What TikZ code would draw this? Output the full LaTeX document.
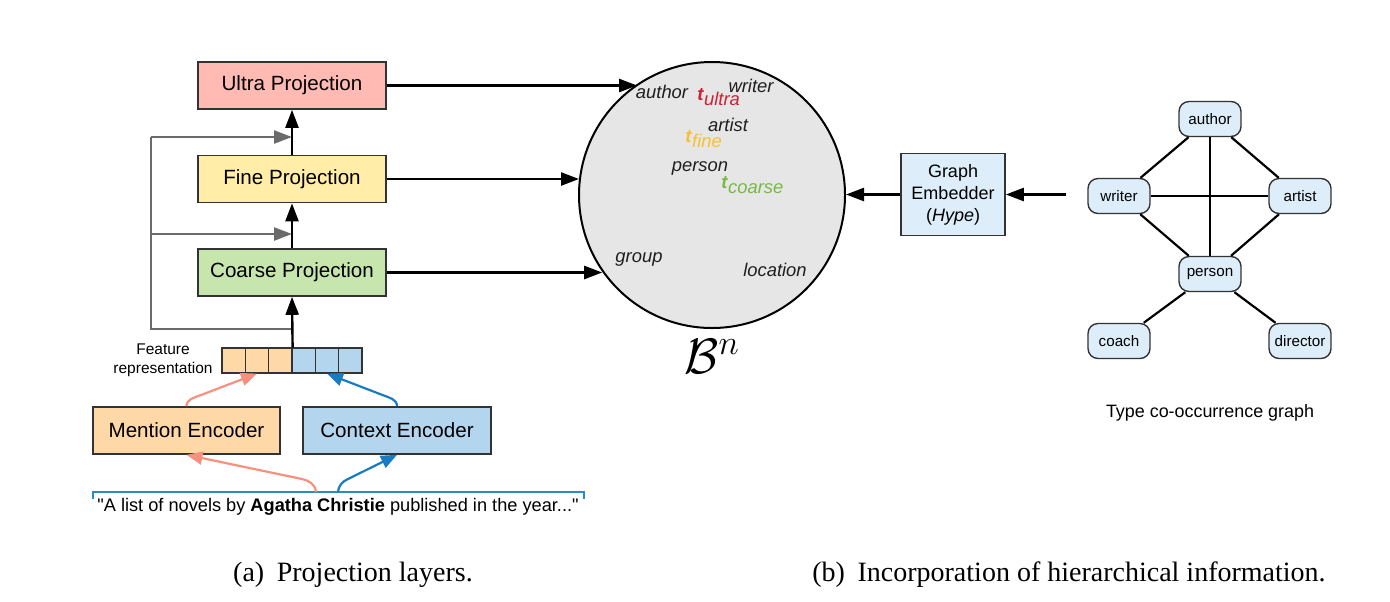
\documentclass[tikz,border=0pt]{standalone}
\usepackage{fontspec}
\setmainfont{Liberation Sans}
\newfontfamily\qfont{Liberation Sans}
\newfontfamily\capfont{Liberation Serif}
\usetikzlibrary{arrows.meta,calc}
\definecolor{boxline}{HTML}{333333}
\definecolor{ultrafill}{HTML}{FFBBB3}
\definecolor{finefill}{HTML}{FFEDA8}
\definecolor{coarsefill}{HTML}{C6E6AE}
\definecolor{menfill}{HTML}{FFD8A8}
\definecolor{ctxfill}{HTML}{B3D5EE}
\definecolor{gfill}{HTML}{DDEEFA}
\definecolor{circfill}{HTML}{E6E6E6}
\definecolor{grayln}{HTML}{6B6B6B}
\definecolor{salm}{HTML}{F8907E}
\definecolor{bluearr}{HTML}{1A7CC0}
\definecolor{brack}{HTML}{2B8CC4}
\definecolor{tultra}{HTML}{CC2233}
\definecolor{tfine}{HTML}{F6C02E}
\definecolor{tcoarse}{HTML}{77B944}
\begin{document}
\begin{tikzpicture}[x=0.5pt,y=-0.5pt,
  proj/.style={draw=boxline, line width=0.8pt, minimum width=94pt, minimum height=23.5pt, inner sep=0pt, font=\fontsize{10.3}{12}\selectfont},
  blk/.style={-{Triangle[length=9pt,width=6.5pt]}, line width=1.2pt},
  gry/.style={draw=grayln, line width=1.2pt},
  gryarr/.style={gry, -{Triangle[length=9pt,width=6.5pt]}},
  salarr/.style={draw=salm, line width=1.1pt, -{Triangle[length=8pt,width=6.5pt]}},
  bluarr/.style={draw=bluearr, line width=1.1pt, -{Triangle[length=8pt,width=6.5pt]}},
  gnode/.style={draw=boxline, rounded corners=5pt, fill=gfill, minimum width=31pt, minimum height=17.5pt, inner sep=0pt, font=\fontsize{7.6}{9}\selectfont, line width=0.7pt},
  gedge/.style={line width=1.1pt},
  cell/.style={draw=boxline, minimum width=11.67pt, minimum height=12.5pt, inner sep=0pt, line width=0.6pt},
  word/.style={font=\fontsize{9.2}{11}\selectfont\itshape, text=black!88, inner sep=0pt},
  tlab/.style={font=\fontsize{9.2}{11}\selectfont, inner sep=0pt, anchor=base west},
  captxt/.style={font=\capfont\fontsize{14}{16}\selectfont, inner sep=0pt}
]
\useasboundingbox (0,0) rectangle (1390,601);

% projection boxes
\node[proj, fill=ultrafill] (ultra) at (292,85.5) {Ultra Projection};
\node[proj, fill=finefill] (fine) at (292,179) {Fine Projection};
\node[proj, fill=coarsefill] (coarse) at (292,272.5) {Coarse Projection};

% feature representation
\node[cell, fill=menfill] (c1) at (233.67,360.5) {};
\node[cell, fill=menfill] (c2) at (257,360.5) {};
\node[cell, fill=menfill] (c3) at (280.33,360.5) {};
\node[cell, fill=ctxfill] (c4) at (303.67,360.5) {};
\node[cell, fill=ctxfill] (c5) at (327,360.5) {};
\node[cell, fill=ctxfill] (c6) at (350.33,360.5) {};
\node[align=center, inner sep=0pt, font=\fontsize{7.75}{9.5}\selectfont] (featlab) at (163,360) {Feature\\representation};

% encoders
\node[proj, fill=menfill, minimum width=93.5pt] (men) at (186.5,430.5) {Mention Encoder};
\node[proj, fill=ctxfill] (ctx) at (397,430.5) {Context Encoder};

% sentence + bracket
\coordinate (bl) at (93,492);
\coordinate (br) at (584,492);
\coordinate (s1) at (316,492);
\coordinate (s2) at (338,492);
\draw[draw=brack, line width=1pt] ($(bl)+(0,7)$) -- (bl) -- (br) -- ($(br)+(0,7)$);
\node[inner sep=0pt, font=\fontsize{9.1}{11}\selectfont] (sent) at (338,507) {{\qfont"}A list of novels by \textbf{Agatha Christie} published in the year...{\qfont"}};

% encoder arrows
\draw[salarr] (s1) to[out=95,in=-12] ++(-14,-13) -- (men.south);
\draw[bluarr] (s2) to[out=85,in=-156] ++(10,-13) -- (ctx.south);
\draw[salarr] (men.north) to[out=90,in=-159] ++(14,-11) -- (c2.south);
\draw[bluarr] (ctx.north) to[out=90,in=-21] ++(-14,-11) -- (c5.south);

% skip connections
\coordinate (g0) at (292,329);
\coordinate (gt) at (151,137);
\coordinate (gm) at (151,234);
\draw[gry] (g0) -| (gt);
\draw[gryarr] (gt) -- (gt -| ultra.south);
\draw[gryarr] (gm) -- (gm -| fine.south);

% main vertical arrows
\draw[blk] (c3.north east) -- (coarse.south);
\draw[blk] (coarse.north) -- (fine.south);
\draw[blk] (fine.north) -- (ultra.south);

% hyperbolic ball
\node[circle, draw=black, line width=1pt, fill=circfill, minimum size=133pt, inner sep=0pt] (hb) at (712,195) {};
\node[inner sep=0pt, font=\fontsize{24}{26}\selectfont] (bn) at (712,356) {$\mathcal{B}^n$};

\draw[blk] (ultra.east) -- (ultra.east -| hb.124);
\draw[blk] (fine.east) -- (fine.east -| hb.173);
\draw[blk] (coarse.east) -- (coarse.east -| hb.215);

\node[word] (wauthor) at (662,92) {author};
\node[word] (wwriter) at (751,86) {writer};
\node[word] (wartist) at (728,125) {artist};
\node[word] (wperson) at (700,168) {person};
\node[word] (wgroup) at (639,259) {group};
\node[word] (wloc) at (775,270) {location};
\node[tlab, text=tultra] (tu) at (697,100) {\textbf{\textit{t}}\raisebox{-0.55ex}{\textit{ultra}}};
\node[tlab, text=tfine] (tf) at (685,142) {\textbf{\textit{t}}\raisebox{-0.55ex}{\textit{fine}}};
\node[tlab, text=tcoarse] (tc) at (721,188) {\textbf{\textit{t}}\raisebox{-0.55ex}{\textit{coarse}}};

% graph embedder
\node[draw=boxline, line width=0.8pt, fill=gfill, minimum width=52pt, minimum height=41pt, inner sep=0pt, align=center, font=\fontsize{9}{11}\selectfont] (ge) at (953,194.5) {Graph\\Embedder\\(\textit{Hype})};
\coordinate (gin) at (1066,194.5);
\draw[blk] (ge.west) -- (ge.west -| hb.east);
\draw[blk] (gin) -- (ge.east);

% co-occurrence graph
\node[gnode] (author) at (1210,119) {author};
\node[gnode] (writer) at (1119,196) {writer};
\node[gnode] (artist) at (1300,196) {artist};
\node[gnode] (person) at (1210,274) {person};
\node[gnode] (coach) at (1119,341) {coach};
\node[gnode] (director) at (1300,341) {director};
\draw[gedge] (author) -- (writer);
\draw[gedge] (author) -- (artist);
\draw[gedge] (author) -- (person);
\draw[gedge] (writer) -- (artist);
\draw[gedge] (writer) -- (person);
\draw[gedge] (artist) -- (person);
\draw[gedge] (person) -- (coach);
\draw[gedge] (person) -- (director);
\node[inner sep=0pt, font=\fontsize{8.95}{11}\selectfont] (glab) at (1210,413) {Type co-occurrence graph};

% captions
\node[captxt] (capa) at (353,575) {(a)\hspace{0.45em}Projection layers.};
\node[captxt] (capb) at (1069,575) {(b)\hspace{0.45em}Incorporation of hierarchical information.};
\end{tikzpicture}
\end{document}
